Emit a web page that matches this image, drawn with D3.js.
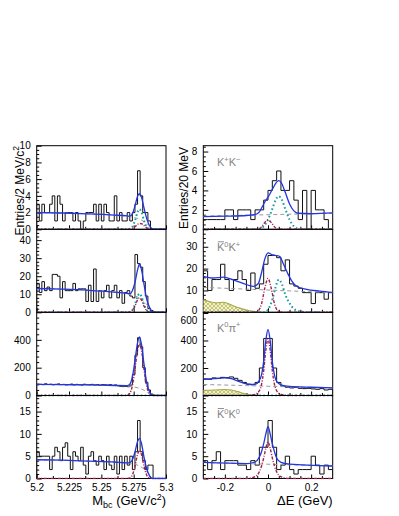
<!DOCTYPE html>
<html>
<head>
<meta charset="utf-8">
<script src="https://cdn.jsdelivr.net/npm/d3@7"></script>
<style>
  body { margin: 0; background: #fff; }
  svg text { font-family: "Liberation Sans", Arial, Helvetica, sans-serif; }
</style>
</head>
<body>
<div id="chart"></div>
<script>
// ---- histograms: Mbc (50 bins of 2 MeV from 5.2) ----
const mbcKK   = [3,1,3,2,2,3,4,1,4,3, 1,2,2,2,1,2,1,0,1,2, 2,2,3,1,3,1,3,2,1,1, 4,1,2,1,1,2,1,2,3,7, 4,2,2,1,0,0,0,0,0,0];
const mbcK0K  = [16,11,17,12,14,12,21,21,20,8, 17,12,12,12,16,12,13,13,13,6, 15,6,24,6,12,8,12,15,8,12, 15,8,12,5,11,12,9,8,32,27, 25,17,9,2,1,0,0,0,0,0];
const mbcK0pi = [82,80,78,84,79,81,77,80,83,78, 80,76,79,82,77,80,78,75,81,79, 77,80,76,78,74,79,77,75,78,73, 76,70,66,64,66,63,75,150,290,415, 350,200,95,40,10,2,0,0,0,0];
const mbcK0K0 = [6,5,5,5,5,2,5,7,6,4, 7,8,5,2,6,5,4,7,3,1, 5,6,4,3,5,4,2,5,3,2, 5,1,5,2,5,3,5,2,6,13, 6,4,2,3,3,0,0,0,0,0];

// ---- histograms: dE (30 bins of 20 MeV from -0.3) ----
const deKK   = [1,1,1,1,1,2,2,1,2,2, 2,1,2,2,3,4,5,6,4,4, 5,3,1,4,0,4,2,2,1,0];
const deK0K  = [19,10,15,15,22,15,10,15,19,15, 10,18,11,13,22,26,26,25,19,24, 13,12,11,9,9,4,9,9,6,9];
const deK0pi = [120,118,128,125,132,130,135,125,110,95, 82,78,95,200,415,415,200,95,68,60, 55,58,52,50,52,48,45,50,40,45];
const deK0K0 = [4,2,4,6,2,4,4,4,3,3, 2,4,3,7,7,13,7,2,3,5, 2,1,2,2,2,5,3,1,3,2];

// ---- fit curves, [x, y] ----
const kkMbcTotal = [[5.2,2.0],[5.22,1.95],[5.24,1.85],[5.26,1.7],[5.27,1.6],[5.272,1.57],[5.274,1.85],[5.276,2.8],[5.278,3.95],[5.2795,4.25],[5.281,3.85],[5.283,2.55],[5.285,1.3],[5.287,0.52],[5.289,0.1],[5.29,0],[5.3,0]];
const kkMbcBkg   = [[5.2,2.0],[5.22,1.95],[5.24,1.85],[5.26,1.7],[5.27,1.55],[5.274,1.45],[5.278,1.3],[5.281,1.1],[5.284,0.8],[5.287,0.45],[5.289,0.1],[5.2895,0],[5.3,0]];
const kkMbcFeed  = [[5.2,0],[5.27,0],[5.272,0.05],[5.274,0.3],[5.276,1.03],[5.278,2.05],[5.2795,2.4],[5.281,2.05],[5.283,1.03],[5.285,0.3],[5.287,0.05],[5.289,0],[5.3,0]];
const kkMbcSig   = [[5.2,0],[5.272,0],[5.274,0.09],[5.276,0.3],[5.278,0.6],[5.28,0.7],[5.282,0.6],[5.284,0.3],[5.286,0.09],[5.288,0],[5.3,0]];

const k0kMbcTotal = [[5.2,13.2],[5.22,12.8],[5.24,12.2],[5.26,11.2],[5.27,10.5],[5.272,10.3],[5.274,12],[5.276,16.5],[5.278,23.5],[5.2795,26.8],[5.281,23.8],[5.283,15.5],[5.285,7.5],[5.287,3.2],[5.289,0.6],[5.29,0],[5.3,0]];
const k0kMbcBkg   = [[5.2,13.2],[5.22,12.8],[5.24,12.2],[5.26,11.2],[5.27,10.2],[5.274,9.6],[5.278,8.5],[5.281,7.2],[5.284,5.2],[5.287,2.8],[5.289,0.6],[5.2895,0],[5.3,0]];
const k0kMbcFeed  = [[5.2,0],[5.27,0],[5.272,0.2],[5.274,1.3],[5.276,4.4],[5.278,8.8],[5.2795,10.3],[5.281,8.8],[5.283,4.4],[5.285,1.3],[5.287,0.2],[5.289,0],[5.3,0]];
const k0kMbcSig   = [[5.2,0],[5.27,0],[5.272,0.17],[5.274,1.0],[5.276,3.4],[5.278,6.9],[5.2795,8],[5.281,6.9],[5.283,3.4],[5.285,1.0],[5.287,0.17],[5.289,0],[5.3,0]];

const k0piMbcTotal = [[5.2,80],[5.22,78],[5.24,76],[5.26,72],[5.27,71],[5.272,82],[5.274,134],[5.276,250],[5.278,380],[5.2795,422],[5.281,370],[5.283,225],[5.285,97],[5.287,33],[5.289,4],[5.29,0],[5.3,0]];
const k0piMbcBkg   = [[5.2,80],[5.22,78],[5.24,76],[5.26,72],[5.27,68],[5.275,62],[5.28,50],[5.283,38],[5.286,20],[5.288,8],[5.289,0],[5.3,0]];
const k0piMbcFeed  = [[5.2,0],[5.3,0]];
const k0piMbcSig   = [[5.2,0],[5.268,0],[5.27,3],[5.272,16],[5.274,69],[5.276,187],[5.278,326],[5.2795,370],[5.281,326],[5.283,187],[5.285,69],[5.287,16],[5.289,3],[5.291,0],[5.3,0]];

const k0k0MbcTotal = [[5.2,4.2],[5.22,4.1],[5.24,3.9],[5.26,3.7],[5.27,3.5],[5.272,3.55],[5.274,4.2],[5.276,5.95],[5.278,8.3],[5.2795,9.0],[5.281,7.9],[5.283,4.8],[5.285,2.3],[5.287,0.75],[5.289,0.05],[5.29,0],[5.3,0]];
const k0k0MbcBkg   = [[5.2,4.2],[5.22,4.1],[5.24,3.9],[5.26,3.7],[5.27,3.5],[5.275,3.3],[5.28,2.7],[5.283,2.1],[5.286,1.2],[5.288,0.4],[5.289,0],[5.3,0]];
const k0k0MbcSig   = [[5.2,0],[5.268,0],[5.27,0.05],[5.272,0.13],[5.274,0.8],[5.276,2.7],[5.278,5.4],[5.2795,6.3],[5.281,5.4],[5.283,2.7],[5.285,0.8],[5.287,0.13],[5.289,0.02],[5.291,0],[5.3,0]];

const kkDeTotal = [[-0.3,1.3],[-0.2,1.35],[-0.1,1.42],[-0.06,1.5],[-0.04,1.8],[-0.02,2.6],[-0.01,3.0],[0,3.3],[0.02,4.1],[0.04,4.85],[0.05,5.0],[0.06,4.85],[0.08,3.8],[0.1,2.6],[0.12,1.9],[0.14,1.65],[0.2,1.6],[0.3,1.68]];
const kkDeBkg   = [[-0.3,1.35],[0.3,1.65]];
const kkDeFeed  = [[-0.3,0],[-0.04,0],[-0.02,0.3],[0,1.0],[0.02,2.1],[0.035,3.0],[0.05,3.4],[0.065,3.0],[0.08,2.1],[0.1,1.0],[0.12,0.3],[0.14,0.05],[0.16,0],[0.3,0]];
const kkDeSig   = [[-0.3,0],[-0.05,0],[-0.03,0.25],[-0.015,0.7],[0,0.95],[0.015,0.7],[0.03,0.25],[0.05,0],[0.3,0]];

const k0kDeTotal = [[-0.3,16.5],[-0.254,15.7],[-0.207,16.1],[-0.161,14.8],[-0.115,13.2],[-0.068,11.9],[-0.045,13.2],[-0.03,18.1],[-0.014,24.7],[0.001,27.2],[0.017,26.4],[0.037,26],[0.055,25.5],[0.071,22.2],[0.09,18.1],[0.11,14.4],[0.133,11.9],[0.179,10.5],[0.241,9.7],[0.3,9.1]];
const k0kDeBkg   = [[-0.3,11.4],[-0.1,10.6],[0.1,9.8],[0.3,9.0]];
const k0kDeOther = [[-0.3,5.8],[-0.27,4.8],[-0.24,4.3],[-0.21,4.6],[-0.18,3.8],[-0.15,2.5],[-0.12,1.6],[-0.09,0.8],[-0.06,0.3],[-0.04,0.05],[-0.03,0]];
const k0kDeSig   = [[-0.3,0],[-0.06,0],[-0.045,0.7],[-0.03,3.9],[-0.015,11],[0,15.5],[0.015,11],[0.03,3.9],[0.045,0.7],[0.06,0.05],[0.08,0],[0.3,0]];
const k0kDeFeed  = [[-0.3,0],[-0.02,0],[-0.01,0.25],[0,1.2],[0.02,5.8],[0.035,11.5],[0.05,15],[0.065,12.8],[0.08,8.2],[0.1,4.1],[0.12,1.6],[0.14,0.6],[0.17,0.1],[0.2,0],[0.3,0]];

const k0piDeTotal = [[-0.3,118],[-0.25,122],[-0.2,128],[-0.17,122],[-0.14,104],[-0.11,88],[-0.08,80],[-0.06,82],[-0.04,110],[-0.03,150],[-0.02,250],[-0.01,400],[0,480],[0.01,400],[0.02,248],[0.03,148],[0.04,102],[0.06,78],[0.1,66],[0.2,60],[0.3,55]];
const k0piDeBkg   = [[-0.3,80],[-0.1,72],[0.1,63],[0.3,55]];
const k0piDeOther = [[-0.3,38],[-0.25,40],[-0.2,44],[-0.17,40],[-0.14,28],[-0.11,14],[-0.08,5],[-0.06,1],[-0.05,0]];
const k0piDeSig   = [[-0.3,0],[-0.1,0],[-0.08,2],[-0.06,8],[-0.04,35],[-0.03,80],[-0.02,180],[-0.01,330],[0,410],[0.01,330],[0.02,180],[0.03,80],[0.04,35],[0.06,8],[0.08,2],[0.1,0],[0.3,0]];
const k0piDeFeed  = [[-0.3,0],[0.3,0]];

const k0k0DeTotal = [[-0.3,3.6],[-0.1,3.35],[-0.06,3.7],[-0.04,4.8],[-0.03,6.0],[-0.02,7.8],[-0.01,10],[0,11.6],[0.01,10],[0.02,7.8],[0.03,6],[0.04,4.6],[0.06,3.6],[0.1,3.2],[0.3,2.8]];
const k0k0DeBkg   = [[-0.3,3.6],[0.3,2.8]];
const k0k0DeSig   = [[-0.3,0],[-0.1,0],[-0.08,0.1],[-0.06,0.4],[-0.04,1.5],[-0.03,2.8],[-0.02,4.6],[-0.01,6.8],[0,8.2],[0.01,6.8],[0.02,4.6],[0.03,2.8],[0.04,1.5],[0.06,0.4],[0.08,0.1],[0.1,0],[0.3,0]];

// ---- axis ticks / labels ----
const mbcTicks = [5.2, 5.225, 5.25, 5.275, 5.3];
const mbcMinor = [5.2125, 5.2375, 5.2625, 5.2875];
const deTicks = [-0.2, 0, 0.2];
const deMinor = [-0.25, -0.15, -0.1, -0.05, 0.05, 0.1, 0.15, 0.25];
const leftYTicks  = [[0,2,4,6,8,10], [0,10,20,30,40], [0,200,400], [0,5,10,15]];
const rightYTicks = [[0,2,4,6,8], [0,10,20,30], [0,200,400,600], [0,5,10,15]];

// ---- layout ----
const W = 399, H = 516;
const rows = [145.7, 229.3, 312.3, 395.5, 478.5];
const cols = [
  { x0: 36.7, x1: 166, domain: [5.2, 5.3], lo: 5.2, bw: 0.002 },
  { x0: 203.3, x1: 332.7, domain: [-0.3, 0.3], lo: -0.3, bw: 0.02 }
];
const leftYMax  = [10, 46, 598, 18.6];
const rightYMax = [8.6, 38, 605, 18.6];
const minorStep = [0.5, 2, 40, 1];

const panels = [
  { col: 0, row: 0, hist: mbcKK,   total: kkMbcTotal,   bkg: kkMbcBkg,   sig: kkMbcSig,   feed: kkMbcFeed },
  { col: 0, row: 1, hist: mbcK0K,  total: k0kMbcTotal,  bkg: k0kMbcBkg,  sig: k0kMbcSig,  feed: k0kMbcFeed },
  { col: 0, row: 2, hist: mbcK0pi, total: k0piMbcTotal, bkg: k0piMbcBkg, sig: k0piMbcSig, feed: k0piMbcFeed },
  { col: 0, row: 3, hist: mbcK0K0, total: k0k0MbcTotal, bkg: k0k0MbcBkg, sig: k0k0MbcSig },
  { col: 1, row: 0, hist: deKK,   total: kkDeTotal,   bkg: kkDeBkg,   sig: kkDeSig,   feed: kkDeFeed },
  { col: 1, row: 1, hist: deK0K,  total: k0kDeTotal,  bkg: k0kDeBkg,  sig: k0kDeSig,  feed: k0kDeFeed,  other: k0kDeOther },
  { col: 1, row: 2, hist: deK0pi, total: k0piDeTotal, bkg: k0piDeBkg, sig: k0piDeSig, feed: k0piDeFeed, other: k0piDeOther },
  { col: 1, row: 3, hist: deK0K0, total: k0k0DeTotal, bkg: k0k0DeBkg, sig: k0k0DeSig }
];

// does the pad below (same column) carry a label right at its top edge?
function topLabelBelow(col, row) {
  if (row >= 3) return false;
  const yMax = col === 0 ? leftYMax[row + 1] : rightYMax[row + 1];
  const ticks = col === 0 ? leftYTicks[row + 1] : rightYTicks[row + 1];
  const h = rows[row + 2] - rows[row + 1];
  return ticks.some(v => h - v / yMax * h < 3);
}

const svg = d3.select("#chart").append("svg").attr("width", W).attr("height", H);
const defs = svg.append("defs");

const pat = defs.append("pattern").attr("id", "hatch")
  .attr("width", 4).attr("height", 4).attr("patternUnits", "userSpaceOnUse");
pat.append("rect").attr("width", 4).attr("height", 4).attr("fill", "#f1f1d2");
pat.append("path").attr("d", "M0,0L4,4M4,0L0,4").attr("stroke", "#b4b448").attr("stroke-width", 0.7);

panels.forEach((p, k) => {
  const c = cols[p.col], top = rows[p.row], bottom = rows[p.row + 1];
  const yMax = p.col === 0 ? leftYMax[p.row] : rightYMax[p.row];
  const x = d3.scaleLinear().domain(c.domain).range([c.x0, c.x1]);
  const y = d3.scaleLinear().domain([0, yMax]).range([bottom, top]);
  const g = svg.append("g");

  defs.append("clipPath").attr("id", "clip" + k)
    .append("rect").attr("x", c.x0).attr("y", top - 1).attr("width", c.x1 - c.x0).attr("height", bottom - top + 2);

  // frame
  g.append("rect").attr("x", c.x0).attr("y", top).attr("width", c.x1 - c.x0).attr("height", bottom - top)
    .attr("fill", "none").attr("stroke", "#000").attr("stroke-width", 1);

  // y axis (ticks inside)
  const yt = p.col === 0 ? leftYTicks[p.row] : rightYTicks[p.row];
  const yAx = g.append("g").attr("transform", `translate(${c.x0},0)`)
    .call(d3.axisLeft(y).tickValues(yt).tickSizeInner(-5).tickSizeOuter(0).tickPadding(6).tickFormat(d => String(d)));
  yAx.select(".domain").remove();
  yAx.selectAll("text").attr("font-size", 10).attr("fill", "#000")
    .attr("font-family", '"Liberation Sans", Arial, sans-serif');
  // stacked labels at a shared pad edge: push them apart a little
  if (p.row > 0) yAx.selectAll("text").filter(d => y(d) - top < 3).attr("dy", "1.08em");
  if (topLabelBelow(p.col, p.row)) yAx.selectAll("text").filter(d => d === 0).attr("dy", "0.1em");
  const yMinor = d3.range(0, yMax, minorStep[p.row]).filter(v => yt.indexOf(v) < 0 && v > 0);
  const yAx2 = g.append("g").attr("transform", `translate(${c.x0},0)`)
    .call(d3.axisLeft(y).tickValues(yMinor).tickSizeInner(-2.5).tickSizeOuter(0).tickFormat(""));
  yAx2.select(".domain").remove();

  // x axis (ticks inside, labels only on bottom row)
  const xt = p.col === 0 ? mbcTicks : deTicks;
  const xm = p.col === 0 ? mbcMinor : deMinor;
  const xAx = g.append("g").attr("transform", `translate(0,${bottom})`)
    .call(d3.axisBottom(x).tickValues(xt).tickSizeInner(-4).tickSizeOuter(0).tickPadding(5)
      .tickFormat(p.row === 3 ? (d => String(d)) : ""));
  xAx.select(".domain").remove();
  xAx.selectAll("text").attr("font-size", 10).attr("fill", "#000")
    .attr("font-family", '"Liberation Sans", Arial, sans-serif');
  const xAx2 = g.append("g").attr("transform", `translate(0,${bottom})`)
    .call(d3.axisBottom(x).tickValues(xm).tickSizeInner(-2.5).tickSizeOuter(0).tickFormat(""));
  xAx2.select(".domain").remove();
  g.selectAll(".tick line").attr("stroke", "#000");

  const plot = g.append("g").attr("clip-path", `url(#clip${k})`);

  // data histogram
  const pts = [[c.lo, 0]].concat(p.hist.map((v, i) => [c.lo + i * c.bw, v]));
  pts.push([c.lo + p.hist.length * c.bw, p.hist[p.hist.length - 1]]);
  pts.push([c.lo + p.hist.length * c.bw, 0]);
  plot.append("path")
    .attr("d", d3.line().x(d => x(d[0])).y(d => y(d[1])).curve(d3.curveStepAfter)(pts))
    .attr("fill", "none").attr("stroke", "#111").attr("stroke-width", 1);

  const line = d3.line().x(d => x(d[0])).y(d => y(d[1])).curve(d3.curveMonotoneX);

  // other background (hatched)
  if (p.other) {
    const area = d3.area().x(d => x(d[0])).y0(y(0)).y1(d => y(d[1])).curve(d3.curveMonotoneX);
    plot.append("path").attr("d", area(p.other)).attr("fill", "url(#hatch)").attr("stroke", "none");
    plot.append("path").attr("d", line(p.other)).attr("fill", "none").attr("stroke", "#a8a848").attr("stroke-width", 1.1);
  }
  // combinatorial background
  plot.append("path").attr("d", line(p.bkg)).attr("fill", "none")
    .attr("stroke", "#999").attr("stroke-width", 1).attr("stroke-dasharray", "4,3");
  // feed-across
  if (p.feed) {
    plot.append("path").attr("d", line(p.feed)).attr("fill", "none")
      .attr("stroke", "#1b9d9d").attr("stroke-width", 2).attr("stroke-dasharray", "1.6,2.4");
  }
  // signal
  plot.append("path").attr("d", line(p.sig)).attr("fill", "none")
    .attr("stroke", "#a3204e").attr("stroke-width", 1.4).attr("stroke-dasharray", "3,1.5,1,1.5");
  // total fit
  plot.append("path").attr("d", line(p.total)).attr("fill", "none")
    .attr("stroke", "#2335e0").attr("stroke-width", 1.3);
});

// channel labels in right column
function addLabel(row, parts, barFirst, dyBase) {
  const t = svg.append("text").attr("x", 217).attr("y", rows[row] + dyBase)
    .attr("font-size", 11).attr("fill", "#858585");
  parts.forEach(pt => {
    const s = t.append("tspan").text(pt.t);
    if (pt.sup) s.attr("font-size", 7.5).attr("dy", -4.5);
    if (pt.back) s.attr("dy", 4.5);
  });
  if (barFirst) {
    const e = t.node().getExtentOfChar(0);
    svg.append("line").attr("x1", e.x + 0.8).attr("x2", e.x + e.width - 0.3)
      .attr("y1", rows[row] + dyBase - 9.5).attr("y2", rows[row] + dyBase - 9.5)
      .attr("stroke", "#858585").attr("stroke-width", 0.9);
  }
}
addLabel(0, [{t: "K"}, {t: "+", sup: true}, {t: "K", back: true}, {t: "\u2212", sup: true}], false, 20.5);
addLabel(1, [{t: "K"}, {t: "0", sup: true}, {t: "K", back: true}, {t: "+", sup: true}], true, 22);
addLabel(2, [{t: "K"}, {t: "0", sup: true}, {t: "\u03c0", back: true}, {t: "+", sup: true}], false, 19.5);
addLabel(3, [{t: "K"}, {t: "0", sup: true}, {t: "K", back: true}, {t: "0", sup: true}], true, 22.5);

// axis titles
const yt1 = svg.append("text").attr("transform", "translate(24,146) rotate(-90)")
  .attr("text-anchor", "end").attr("font-size", 12).attr("fill", "#000");
yt1.append("tspan").text("Entries/2 MeV/c");
yt1.append("tspan").text("2").attr("font-size", 8.5).attr("dy", -5);

svg.append("text").attr("transform", "translate(188,147) rotate(-90)")
  .attr("text-anchor", "end").attr("font-size", 12).attr("fill", "#000")
  .text("Entries/20 MeV");

const xt1 = svg.append("text").attr("x", 166).attr("y", 505)
  .attr("text-anchor", "end").attr("font-size", 13).attr("fill", "#000");
xt1.append("tspan").text("M");
xt1.append("tspan").text("bc").attr("font-size", 9).attr("dy", 3);
xt1.append("tspan").text(" (GeV/c").attr("dy", -3);
xt1.append("tspan").text("2").attr("font-size", 9).attr("dy", -5);
xt1.append("tspan").text(")").attr("dy", 5);

svg.append("text").attr("x", 332.7).attr("y", 505)
  .attr("text-anchor", "end").attr("font-size", 13).attr("fill", "#000")
  .text("\u0394E (GeV)");
</script>
</body>
</html>
